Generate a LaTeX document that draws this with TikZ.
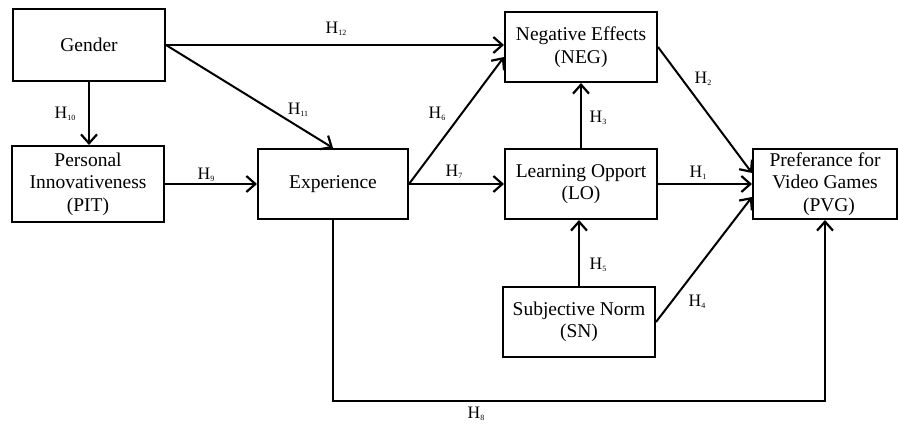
\documentclass[tikz,border=0pt]{standalone}
\usepackage{fontspec}
\setmainfont{Liberation Serif}
\usetikzlibrary{arrows.meta,calc}
\newcommand{\hlab}[1]{H\raisebox{-2.5pt}{\fontsize{8}{8}\selectfont #1}}
\begin{document}
\begin{tikzpicture}[x=1pt,y=-1pt,
  box/.style={draw, line width=2pt, align=center, inner sep=0pt,
    font=\fontsize{19.5}{22.5}\selectfont},
  arr/.style={line width=2pt, -{Straight Barb[length=9pt,width=16pt,line width=2.2pt]}},
  lab/.style={font=\fontsize{17.5}{17.5}\selectfont, inner sep=0pt}]
\useasboundingbox (0,0) rectangle (898,430);
\node[box, minimum width=152pt, minimum height=72pt] (Gender) at (89,45) {Gender};
\node[box, minimum width=152pt, minimum height=76pt] (PIT) at (88,184) {Personal\\Innovativeness\\(PIT)};
\node[box, minimum width=150pt, minimum height=70pt] (Exp) at (333,184) {Experience};
\node[box, minimum width=152pt, minimum height=70pt] (NEG) at (581,47) {Negative Effects\\(NEG)};
\node[box, minimum width=152pt, minimum height=70pt] (LO) at (581,184) {Learning Opport\\(LO)};
\node[box, minimum width=144pt, minimum height=70pt] (PVG) at (825,184) {Preferance for\\Video Games\\\hspace*{8pt}(PVG)};
\node[box, minimum width=152pt, minimum height=70pt] (SN) at (579,322) {Subjective Norm\\(SN)};
\coordinate (bot) at (0,401);
% connectors
\draw[arr] (Gender.east) -- (Gender.east -| NEG.west);
\draw[arr] (Gender.east) -- (Exp.north);
\draw[arr] (Gender.south) -- (Gender.south |- PIT.north);
\draw[arr] (PIT.east) -- (PIT.east -| Exp.west);
\draw[arr] (Exp.east) -- ([yshift=-10pt]NEG.west);
\draw[arr] (Exp.east) -- (Exp.east -| LO.west);
\draw[arr] (LO.north) -- (LO.north |- NEG.south);
\draw[arr] (SN.north) -- (SN.north |- LO.south);
\draw[arr] (NEG.east) -- ([yshift=11pt]PVG.west);
\draw[arr] (LO.east) -- (LO.east -| PVG.west);
\draw[arr] (SN.east) -- ([yshift=-13pt]PVG.west);
\draw[arr] (Exp.south) -- (Exp.south |- bot) -| (PVG.south);
% labels
\node[lab] (h12) at (336,29) {\hlab{12}};
\node[lab] (h10) at (65,114) {\hlab{10}};
\node[lab] (h11) at (298,110) {\hlab{11}};
\node[lab] (h6) at (437,114) {\hlab{6}};
\node[lab] (h9) at (206,175) {\hlab{9}};
\node[lab] (h7) at (454,172) {\hlab{7}};
\node[lab] (h3) at (598,118) {\hlab{3}};
\node[lab] (h2) at (703,79) {\hlab{2}};
\node[lab] (h1) at (698,173) {\hlab{1}};
\node[lab] (h5) at (598,265) {\hlab{5}};
\node[lab] (h4) at (697,302) {\hlab{4}};
\node[lab] (h8) at (476,414) {\hlab{8}};
\end{tikzpicture}
\end{document}
